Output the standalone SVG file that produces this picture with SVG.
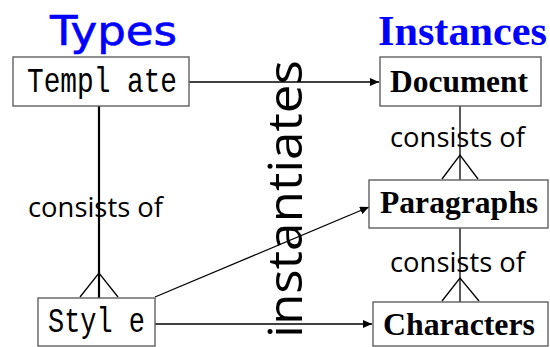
<svg xmlns="http://www.w3.org/2000/svg" width="550" height="347" viewBox="0 0 550 347">
<style>
.box{fill:#fff;stroke:#606060;stroke-width:1.4}
.mono{font-family:"Liberation Mono","DejaVu Sans Mono",monospace;font-size:35px;fill:#000}
.serifb{font-family:"Liberation Serif","Times New Roman",serif;font-weight:bold;font-size:31.5px;fill:#000}
.lbl{font-family:"Open Sans","Noto Sans",sans-serif;font-size:27px;fill:#000}
.ln{stroke:#000;stroke-width:1.3;fill:none}
</style>
<defs>
<marker id="arr" markerWidth="10" markerHeight="8" refX="9" refY="4" orient="auto" markerUnits="userSpaceOnUse">
<path d="M0,0 L9,4 L0,8 z" fill="#000"/>
</marker>
</defs>
<rect width="550" height="347" fill="#fff"/>
<text x="50" y="45" font-family="DejaVu Sans, Verdana, sans-serif" font-size="41" fill="#0000ff" stroke="#0000ff" stroke-width="0.6" textLength="127" lengthAdjust="spacingAndGlyphs">Types</text>
<text x="378" y="45" font-family="Liberation Serif, Times New Roman, serif" font-weight="bold" font-size="42" fill="#0000ff" textLength="169" lengthAdjust="spacingAndGlyphs">Instances</text>
<g id="connectors">
<line class="ln" x1="189" y1="82" x2="379" y2="82" marker-end="url(#arr)"/>
<line x1="99" y1="106" x2="99" y2="298" stroke="#000" stroke-width="2.2"/>
<polyline class="ln" points="80,297 99,273 118,297"/>
<line class="ln" x1="460" y1="106" x2="460" y2="180"/>
<polyline class="ln" points="442,179 460,155 478,179"/>
<line class="ln" x1="460" y1="228" x2="460" y2="302"/>
<polyline class="ln" points="442,301 460,278 479,301"/>
<line class="ln" x1="155" y1="297" x2="369" y2="207" marker-end="url(#arr)"/>
<line class="ln" x1="155" y1="324" x2="372" y2="324" marker-end="url(#arr)"/>
<text class="lbl" x="28" y="217" textLength="135" lengthAdjust="spacingAndGlyphs">consists of</text>
<text class="lbl" x="390" y="147" textLength="135" lengthAdjust="spacingAndGlyphs">consists of</text>
<text class="lbl" x="390" y="272" textLength="135" lengthAdjust="spacingAndGlyphs">consists of</text>
<text transform="translate(302,338) rotate(-90)" font-family="Open Sans, Noto Sans, sans-serif" font-size="47" fill="#000" textLength="278" lengthAdjust="spacingAndGlyphs">instantiates</text>
</g>
<g id="template">
<rect class="box" x="13" y="57" width="176" height="49"/>
<text class="mono" x="27" y="92" textLength="150" lengthAdjust="spacingAndGlyphs">Templ ate</text>
</g>
<g id="style">
<rect class="box" x="38" y="298" width="117" height="48"/>
<text class="mono" x="48" y="332" textLength="97" lengthAdjust="spacingAndGlyphs">Styl e</text>
</g>
<g id="document">
<rect class="box" x="380" y="57" width="161" height="49"/>
<text class="serifb" x="390" y="92" textLength="138" lengthAdjust="spacingAndGlyphs">Document</text>
</g>
<g id="paragraphs">
<rect class="box" x="369" y="180" width="179" height="48"/>
<text class="serifb" x="380" y="213" textLength="158" lengthAdjust="spacingAndGlyphs">Paragraphs</text>
</g>
<g id="characters">
<rect class="box" x="373" y="302" width="175" height="44"/>
<text class="serifb" x="383" y="335" textLength="152" lengthAdjust="spacingAndGlyphs">Characters</text>
</g>
</svg>
